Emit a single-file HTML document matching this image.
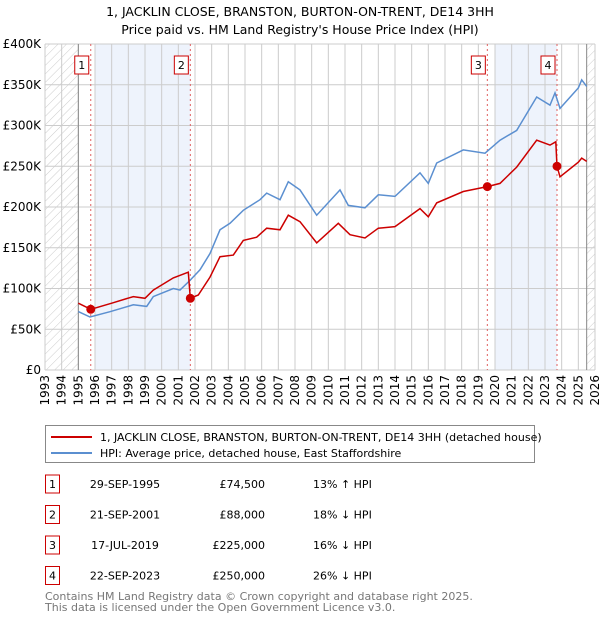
<!DOCTYPE html>
<html><head><meta charset="utf-8"><style>
body{margin:0;background:#fff;font-family:"Liberation Sans","DejaVu Sans",sans-serif;}
svg text{font-family:"DejaVu Sans","Liberation Sans",sans-serif;}
</style></head><body>
<svg id="c" width="600" height="620" xmlns="http://www.w3.org/2000/svg">
<defs><pattern id="h" width="6" height="6" patternUnits="userSpaceOnUse" patternTransform="rotate(45)"><line x1="0" y1="0" x2="0" y2="6" stroke="#ccc" stroke-width="1"/></pattern></defs>
<text x="300" y="16" text-anchor="middle" font-size="12.5">1, JACKLIN CLOSE, BRANSTON, BURTON-ON-TRENT, DE14 3HH</text>
<text x="300" y="34" text-anchor="middle" font-size="12.5">Price paid vs. HM Land Registry's House Price Index (HPI)</text>
<g id="plot"></g>
<rect x="45.5" y="425.5" width="489" height="37" fill="#fff" stroke="#888"/>
<line x1="51" y1="437" x2="92" y2="437" stroke="#cc0000" stroke-width="2"/>
<text x="100" y="441" font-size="11">1, JACKLIN CLOSE, BRANSTON, BURTON-ON-TRENT, DE14 3HH (detached house)</text>
<line x1="51" y1="453" x2="92" y2="453" stroke="#5b8fd0" stroke-width="2"/>
<text x="100" y="457" font-size="11">HPI: Average price, detached house, East Staffordshire</text>
<g id="tbl" font-size="11"></g>
<text x="45" y="600" font-size="11" fill="#777">Contains HM Land Registry data © Crown copyright and database right 2025.</text>
<text x="45" y="611" font-size="11" fill="#777">This data is licensed under the Open Government Licence v3.0.</text>
</svg>
<script>
const hpiYears=[1995,1995.7,1996.9,1998.3,1999.1,1999.5,2000.7,2001.1,2001.7,2002.3,2002.9,2003.5,2004.1,2004.9,2005.9,2006.3,2007.1,2007.6,2008.3,2009.3,2010.7,2011.2,2012.2,2013,2014,2015.5,2016,2016.5,2018.1,2019.4,2020.3,2021.3,2022.5,2023.3,2023.6,2023.9,2025,2025.2,2025.5];
const hpiValues=[71.6,65,71.5,80,78,90,100,98,110,123,143,172,180,196,209,217,209,231,221,190,221,202,199,215,213,242,229,254,270,266,282,294,335,325,340,321,346,356,348];
const propYears=[1995,1995.75,1997,1998.3,1999,1999.5,2000.7,2001.6,2001.72,2002.2,2002.9,2003.5,2004.3,2004.9,2005.7,2006.3,2007.1,2007.6,2008.3,2009.3,2010.6,2011.3,2012.2,2013,2014,2015.5,2016,2016.5,2018.1,2019.54,2020.3,2021.3,2022.5,2023.3,2023.65,2023.72,2023.9,2025,2025.2,2025.5];
const propValues=[82,74.5,82,90,88,98,113,120,88,92,114,139,141,159,163,174,172,190,182,156,180,166,162,174,176,198,188,205,219,225,229,249,282,276,280,250,237,255,260,256];
const saleYears=[1995.745,2001.72,2019.54,2023.72];
const saleValues=[74.5,88,225,250];
const saleLabels=["1","2","3","4"];
const saleDates=["29-SEP-1995","21-SEP-2001","17-JUL-2019","22-SEP-2023"];
const salePrices=["£74,500","£88,000","£225,000","£250,000"];
const saleHpi=["13% ↑ HPI","18% ↓ HPI","16% ↓ HPI","26% ↓ HPI"];
const yTicks=[0,50,100,150,200,250,300,350,400];
const yTickLabels=["£0","£50K","£100K","£150K","£200K","£250K","£300K","£350K","£400K"];
const xTicks=[1993,1994,1995,1996,1997,1998,1999,2000,2001,2002,2003,2004,2005,2006,2007,2008,2009,2010,2011,2012,2013,2014,2015,2016,2017,2018,2019,2020,2021,2022,2023,2024,2025,2026];
const L=45,R=595,T=44,B=370;
const xs=y=>L+(y-1993)/(2026-1993)*(R-L);
const ys=v=>B-v/400*(B-T);
const NS="http://www.w3.org/2000/svg";
const g=document.getElementById('plot');
function mk(tag,at,parent){const e=document.createElementNS(NS,tag);for(const k in at)e.setAttribute(k,at[k]);(parent||g).appendChild(e);return e;}
let e;
e=mk('rect',{x:xs(1996),y:T,width:xs(2001.72)-xs(1996),height:B-T,fill:'#eef3fc'});


e=mk('rect',{x:xs(2020),y:T,width:xs(2023.72)-xs(2020),height:B-T,fill:'#eef3fc'});


e=mk('rect',{x:L,y:T,width:xs(1995)-L,height:B-T,fill:'url(#h)'});


e=mk('rect',{x:xs(2025.5),y:T,width:R-xs(2025.5),height:B-T,fill:'url(#h)'});


yTicks.forEach((v,i)=>{
 e=mk('line',{x1:L,x2:R,y1:ys(v),y2:ys(v),stroke:'#ccc'});
 
 
 e=mk('text',{x:L-4,y:ys(v)+4,'text-anchor':'end','font-size':'12'});
 e.textContent=yTickLabels[i];
 
 
});
xTicks.forEach(y=>{
 e=mk('line',{x1:xs(y),x2:xs(y),y1:T,y2:B,stroke:'#ccc'});
 
 
 e=mk('text',{x:0,y:0,'text-anchor':'end','font-size':'12',transform:`translate(${xs(y)+4},${B+5}) rotate(-90)`});
 e.textContent=y;
 
 
});
e=mk('line',{x1:xs(1995),x2:xs(1995),y1:T,y2:B,stroke:'#888'});


e=mk('line',{x1:xs(2025.5),x2:xs(2025.5),y1:T,y2:B,stroke:'#888'});


saleYears.forEach((y,i)=>{
 e=mk('line',{x1:xs(y),x2:xs(y),y1:T,y2:B,stroke:'#e06060','stroke-dasharray':'2,3'});
 
 
 const bx=xs(y)-(i%2==0?17:-(-17))+ (i%2==0?0:-17*2+17);
 const bxx=(i==0||i==2)?xs(y)-16:xs(y)-16;
 e=mk('rect',{x:bxx-(i==0||i==2?0:0),y:56,width:14,height:18,fill:'#fff',stroke:'#cc0000'});
 
 
 e=mk('text',{x:bxx+7,y:69,'text-anchor':'middle','font-size':'11'});
 e.textContent=saleLabels[i];
 
 
});
function path(xa,va,col,name){
 const d=xa.map((x,i)=>(i?'L':'M')+xs(x).toFixed(1)+','+ys(va[i]).toFixed(1)).join('');
 const p=mk('path',{d:d,fill:'none',stroke:col,'stroke-width':'1.5'});
 
 
}
path(hpiYears,hpiValues,'#5b8fd0','hpi-line');
path(propYears,propValues,'#cc0000','property-price-line');
saleYears.forEach((y,i)=>{
 e=mk('circle',{cx:xs(y),cy:ys(saleValues[i]),r:4.5,fill:'#cc0000'});
 
 
});
const t=document.getElementById('tbl');
saleLabels.forEach((lab,i)=>{
 const cy=483+i*30.5;
 e=mk('rect',{x:45.5,y:cy-8,width:14,height:18,fill:'#fff',stroke:'#cc0000'},t);
 
 
 e=mk('text',{x:52.5,y:cy+5,'text-anchor':'middle'},t);e.textContent=lab;
 
 
 e=mk('text',{x:125,y:cy+5,'text-anchor':'middle'},t);e.textContent=saleDates[i];
 
 
 e=mk('text',{x:265,y:cy+5,'text-anchor':'end'},t);e.textContent=salePrices[i];
 
 
 e=mk('text',{x:313,y:cy+5},t);e.textContent=saleHpi[i];
 
 
});
</script>
</body></html>
